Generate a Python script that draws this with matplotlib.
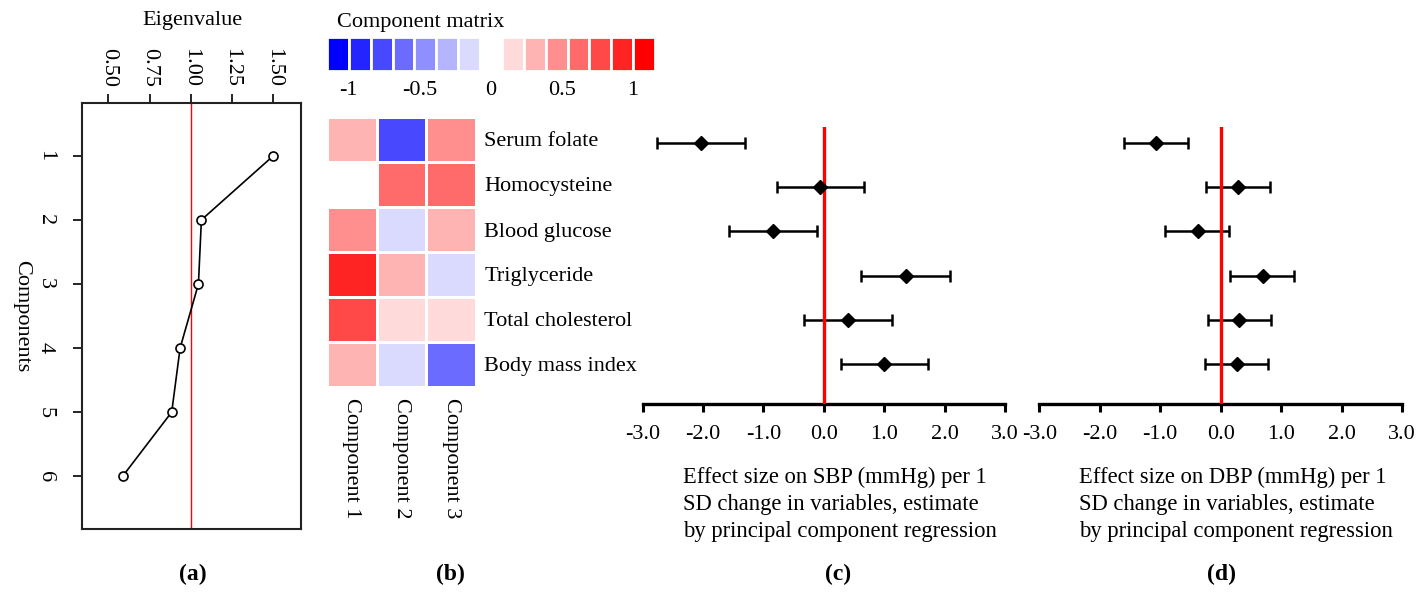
import numpy as np
import matplotlib
matplotlib.use('Agg')
import matplotlib.pyplot as plt
from matplotlib.colors import ListedColormap, BoundaryNorm

plt.rcParams['font.family'] = ['Liberation Serif', 'DejaVu Serif']
plt.rcParams['font.size'] = 16

# --- (a) eigenvalues ---
componentes = [1, 2, 3, 4, 5, 6]
autovalores = [1.50, 1.064, 1.046, 0.935, 0.884, 0.587]
ticks_autovalor = [0.50, 0.75, 1.00, 1.25, 1.50]

# --- (b) component matrix (loadings) ---
variaveis = ['Serum folate', 'Homocysteine', 'Blood glucose',
             'Triglyceride', 'Total cholesterol', 'Body mass index']
nomes_comp = ['Component 1', 'Component 2', 'Component 3']
cargas = [
    [0.27, -0.66, 0.40],
    [0.02, 0.53, 0.55],
    [0.42, -0.13, 0.26],
    [0.80, 0.28, -0.12],
    [0.67, 0.13, 0.12],
    [0.27, -0.14, -0.53],
]
legenda_valores = [-1, -0.5, 0, 0.5, 1]
legenda_textos = ['-1', '-0.5', '0', '0.5', '1']

# --- (c) SBP effect sizes ---
sbp_est = [-2.04, -0.07, -0.84, 1.36, 0.40, 1.00]
sbp_lo = [-2.77, -0.78, -1.57, 0.62, -0.33, 0.28]
sbp_hi = [-1.31, 0.67, -0.11, 2.09, 1.13, 1.73]

# --- (d) DBP effect sizes ---
dbp_est = [-1.075, 0.28, -0.38, 0.695, 0.31, 0.27]
dbp_lo = [-1.60, -0.25, -0.92, 0.16, -0.215, -0.265]
dbp_hi = [-0.535, 0.81, 0.14, 1.22, 0.84, 0.79]
ticks_efeito = [-3.0, -2.0, -1.0, 0.0, 1.0, 2.0, 3.0]

W, H = 1428, 592
fig = plt.figure(figsize=(W / 100, H / 100), dpi=100)


def ret(l, t, r, b):
    return [l / W, 1 - b / H, (r - l) / W, (b - t) / H]


# ---------- painel (a) ----------
ax_a = fig.add_axes(ret(82, 103.3, 301, 529.3))
ax_a.axvline(1.0, color='red', lw=1.0, zorder=1)
ax_a.plot(autovalores, componentes, '-o', color='black', mfc='white',
          ms=6.5, lw=1.2, mew=1.2, zorder=2)
ax_a.set_xlim(0.34, 1.668)
ax_a.set_ylim(6.83, 0.18)
ax_a.xaxis.tick_top()
ax_a.set_xticks(ticks_autovalor)
ax_a.set_xticklabels([f'{v:.2f}' for v in ticks_autovalor], rotation=-90,
                     va='bottom', ha='center')
ax_a.set_yticks(componentes)
ax_a.set_yticklabels([str(c) for c in componentes], rotation=-90,
                     va='center', ha='right')
ax_a.tick_params(axis='both', length=6.5, width=1.2, labelsize=16)
ax_a.tick_params(axis='x', pad=5)
ax_a.tick_params(axis='y', pad=13)
for sp in ax_a.spines.values():
    sp.set_linewidth(1.5)
    sp.set_color('#222222')
fig.text(192.7 / W, 1 - 20 / H, 'Eigenvalue', ha='center', va='center', fontsize=16)
fig.text(22 / W, 1 - 316 / H, 'Components', ha='center', va='center',
         rotation=-90, fontsize=16)

# ---------- painel (b) ----------
azuis = ['#0000FF', '#2424FF', '#4848FF', '#6B6BFF', '#8F8FFF', '#B4B4FF', '#DADAFF']
vermelhos = ['#FFDADA', '#FFB4B4', '#FF8F8F', '#FF6B6B', '#FF4848', '#FF2424', '#FF0000']
paleta = azuis + ['#FFFFFF'] + vermelhos
cmap = ListedColormap(paleta)
norm = BoundaryNorm(np.linspace(-1, 1, 16), cmap.N)

ax_b = fig.add_axes(ret(327, 117, 476, 387))
ax_b.pcolormesh(np.arange(4), np.arange(7), np.array(cargas), cmap=cmap, norm=norm,
                edgecolors='white', linewidth=2)
ax_b.set_xlim(0, 3)
ax_b.set_ylim(6, 0)
ax_b.yaxis.tick_right()
ax_b.set_yticks(np.arange(6) + 0.5)
ax_b.set_yticklabels(variaveis, fontsize=16)
ax_b.set_xticks(np.arange(3) + 0.5)
ax_b.set_xticklabels(nomes_comp, rotation=-90, fontsize=16)
ax_b.tick_params(axis='both', length=0)
ax_b.tick_params(axis='y', pad=6)
ax_b.tick_params(axis='x', pad=8)
for sp in ax_b.spines.values():
    sp.set_visible(False)

# legenda de cores
ax_leg = fig.add_axes(ret(327, 37, 655, 71))
ax_leg.bar(np.arange(15), 1, width=1, align='edge', color=paleta,
           edgecolor='white', linewidth=2)
ax_leg.set_xlim(0, 15)
ax_leg.set_ylim(0, 1)
ax_leg.set_yticks([])
ax_leg.set_xticks([7.5 + 6.5 * v for v in legenda_valores])
ax_leg.set_xticklabels(legenda_textos, fontsize=16)
ax_leg.tick_params(axis='x', length=0, pad=7)
for sp in ax_leg.spines.values():
    sp.set_visible(False)
fig.text(337 / W, 1 - 22 / H, 'Component matrix', ha='left', va='center', fontsize=16)


# ---------- paineis (c) e (d) ----------
def floresta(ax, est, lo, hi):
    est = np.array(est)
    y = np.arange(len(est))
    xerr = [est - np.array(lo), np.array(hi) - est]
    ax.errorbar(est, y, xerr=xerr, fmt='none', ecolor='black', elinewidth=1.8,
                capsize=4.5, capthick=1.8, zorder=2)
    ax.axvline(0, color='red', lw=2.4, zorder=3)
    ax.plot(est, y, 'D', color='black', ms=7.5, zorder=4)
    ax.set_xlim(-3.0, 3.0)
    ax.set_ylim(5.9, -0.36)
    ax.set_yticks([])
    ax.set_xticks(ticks_efeito)
    ax.set_xticklabels([f'{v:.1f}' for v in ticks_efeito], fontsize=16)
    ax.tick_params(axis='x', length=6, width=2.2, pad=9, direction='out')
    for lado in ['top', 'right', 'left']:
        ax.spines[lado].set_visible(False)
    ax.spines['bottom'].set_linewidth(2.4)
    ax.patch.set_alpha(0)


ax_c = fig.add_axes(ret(642.7, 127, 1005, 404))
floresta(ax_c, sbp_est, sbp_lo, sbp_hi)
ax_d = fig.add_axes(ret(1039.3, 127, 1402, 404))
floresta(ax_d, dbp_est, dbp_lo, dbp_hi)

rotulo_c = ['Effect size on SBP (mmHg) per 1', 'SD change in variables, estimate',
            'by principal component regression']
rotulo_d = ['Effect size on DBP (mmHg) per 1', 'SD change in variables, estimate',
            'by principal component regression']
for x0, linhas in [(683, rotulo_c), (1079, rotulo_d)]:
    for i, linha in enumerate(linhas):
        fig.text(x0 / W, 1 - (483 + 27 * i) / H, linha, ha='left',
                 va='baseline', fontsize=16.3)

# letras dos paineis
for x, letra in [(193, '(a)'), (450, '(b)'), (838, '(c)'), (1221, '(d)')]:
    fig.text(x / W, 1 - 574 / H, letra, ha='center', va='center',
             fontsize=17, weight='bold')

fig.savefig('out.png', dpi=100)
